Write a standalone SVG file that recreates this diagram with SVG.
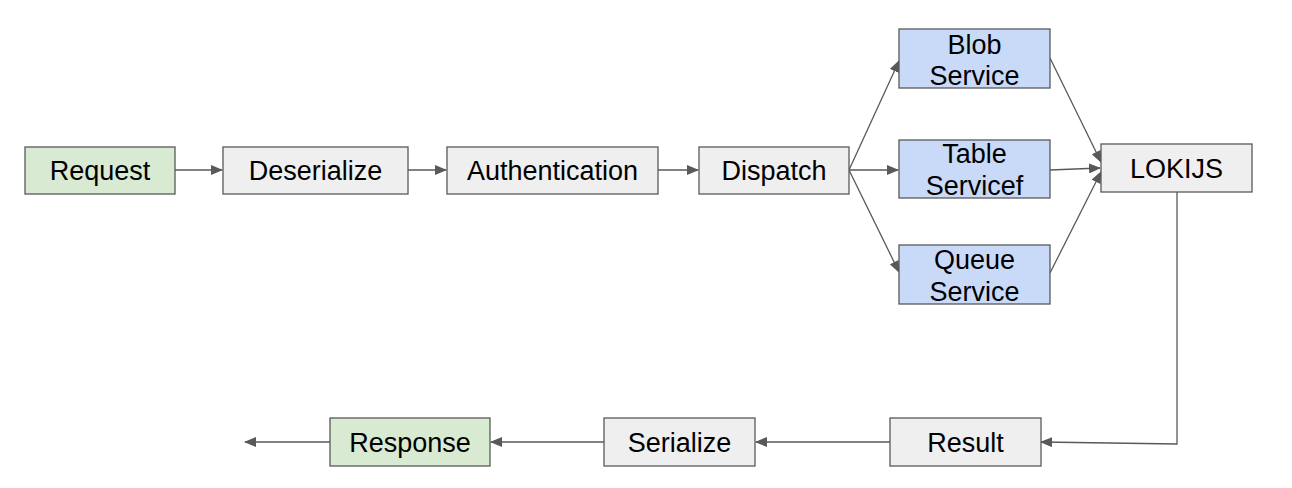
<svg xmlns="http://www.w3.org/2000/svg" width="1292" height="488" viewBox="0 0 1292 488">
<style>
.n rect{stroke:#595959;stroke-width:1.3}
.g{fill:#d9ead3}.w{fill:#efefef}.b{fill:#c9daf8}
text{font-family:"Liberation Sans",Arial,sans-serif;font-size:27px;fill:#000;text-anchor:middle}
.c{stroke:#595959;stroke-width:1.3;fill:none}
</style>
<defs>
<marker id="a" viewBox="0 0 12 10" refX="11" refY="5" markerWidth="12" markerHeight="10" markerUnits="userSpaceOnUse" orient="auto">
<path d="M0,0 L12,5 L0,10 Z" fill="#595959"/>
</marker>
</defs>
<rect width="1292" height="488" fill="#fff"/>
<g id="connectors">
<line class="c" x1="175" y1="170" x2="222" y2="170" marker-end="url(#a)"/>
<line class="c" x1="408" y1="170" x2="446" y2="170" marker-end="url(#a)"/>
<line class="c" x1="658" y1="170" x2="698" y2="170" marker-end="url(#a)"/>
<line class="c" x1="849" y1="170" x2="899" y2="61" marker-end="url(#a)"/>
<line class="c" x1="849" y1="170" x2="898" y2="170" marker-end="url(#a)"/>
<line class="c" x1="849" y1="170" x2="899" y2="272" marker-end="url(#a)"/>
<line class="c" x1="1050" y1="58" x2="1101" y2="162" marker-end="url(#a)"/>
<line class="c" x1="1050" y1="170" x2="1100" y2="168" marker-end="url(#a)"/>
<line class="c" x1="1050" y1="273" x2="1101" y2="172" marker-end="url(#a)"/>
<polyline class="c" points="1177,192 1177,444 1041,442" marker-end="url(#a)"/>
<line class="c" x1="890" y1="442" x2="756" y2="442" marker-end="url(#a)"/>
<line class="c" x1="604" y1="442" x2="491" y2="442" marker-end="url(#a)"/>
<line class="c" x1="330" y1="442" x2="245" y2="442" marker-end="url(#a)"/>
</g>
<g id="request" class="n"><rect class="g" x="25" y="147" width="150" height="47"/><text x="100" y="180">Request</text></g>
<g id="deserialize" class="n"><rect class="w" x="223" y="147" width="185" height="47"/><text x="315.5" y="180">Deserialize</text></g>
<g id="authentication" class="n"><rect class="w" x="447" y="147" width="211" height="47"/><text x="552.5" y="180">Authentication</text></g>
<g id="dispatch" class="n"><rect class="w" x="699" y="147" width="150" height="47"/><text x="774" y="180">Dispatch</text></g>
<g id="blob" class="n"><rect class="b" x="899" y="29" width="151" height="59"/><text x="974.5" y="54">Blob</text><text x="974.5" y="85">Service</text></g>
<g id="table" class="n"><rect class="b" x="899" y="140" width="151" height="58"/><text x="974.5" y="163">Table</text><text x="974.5" y="195">Servicef</text></g>
<g id="queue" class="n"><rect class="b" x="899" y="245" width="151" height="59"/><text x="974.5" y="269">Queue</text><text x="974.5" y="301">Service</text></g>
<g id="lokijs" class="n"><rect class="w" x="1101" y="144" width="151" height="48"/><text x="1176.5" y="178">LOKIJS</text></g>
<g id="result" class="n"><rect class="w" x="890" y="418" width="151" height="48"/><text x="965.5" y="452">Result</text></g>
<g id="serialize" class="n"><rect class="w" x="604" y="418" width="151" height="48"/><text x="679.5" y="452">Serialize</text></g>
<g id="response" class="n"><rect class="g" x="330" y="418" width="160" height="48"/><text x="410" y="452">Response</text></g>
</svg>
